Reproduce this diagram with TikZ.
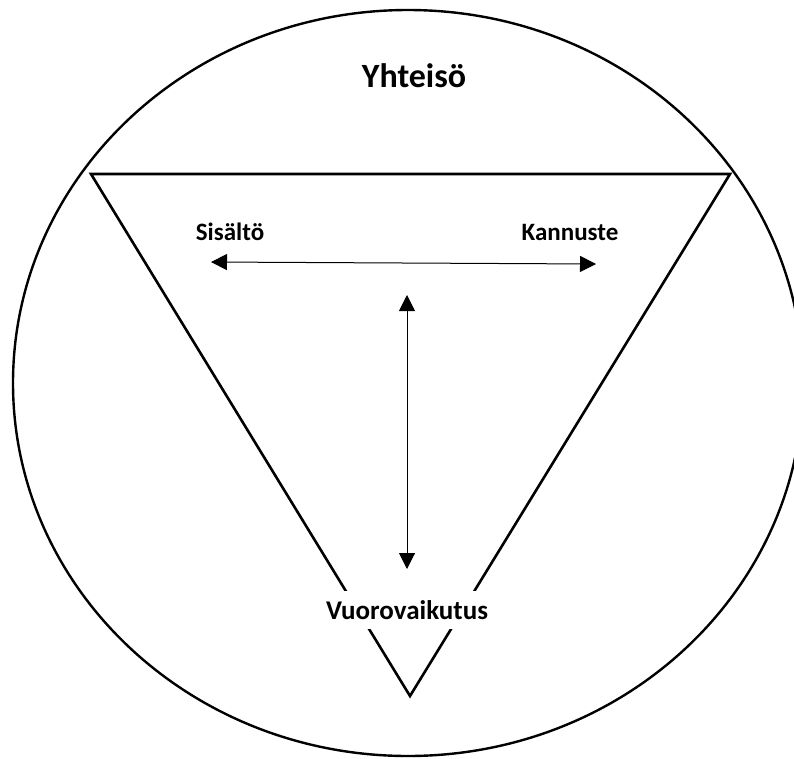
\documentclass[tikz,border=0pt]{standalone}
\usepackage{fontspec}
\setmainfont{Carlito}
\usetikzlibrary{arrows.meta}
\begin{document}
\begin{tikzpicture}[x=1pt,y=-1pt,
  outline/.style={line width=2.6pt,line join=miter},
  link/.style={line width=1pt,{Triangle[length=16pt,width=16pt]}-{Triangle[length=16pt,width=16pt]}},
  lbl/.style={font=\bfseries\fontsize{25}{30}\selectfont,inner sep=0pt}]
\useasboundingbox (0,0) rectangle (794,758);
\fill[white] (0,0) rectangle (794,758);
% circle
\draw[line width=2.4pt] (408,383) ellipse [x radius=395, y radius=373];
% triangle
\coordinate (tl) at (91,174);
\coordinate (tr) at (730,174);
\coordinate (ap) at (410,696);
\draw[outline] (tl) -- (tr) -- (ap) -- cycle;
% labels
\node[lbl,font=\bfseries\fontsize{34}{40}\selectfont] (yht) at (414,76) {Yhteisö};
\node[lbl] (sis) at (230,232) {Sisältö};
\node[lbl] (kan) at (570,232) {Kannuste};
\node[lbl,font=\bfseries\fontsize{27}{32}\selectfont,fill=white,inner xsep=4pt,inner ysep=9pt] (vuo) at (407,610) {Vuorovaikutus};
% arrows
\coordinate (hl) at (211,262);
\coordinate (hr) at (596,264);
\coordinate (vt) at (407,295);
\coordinate (vb) at (407,569);
\draw[link] (hl) -- (hr);
\draw[link] (vt) -- (vb);
\end{tikzpicture}
\end{document}
